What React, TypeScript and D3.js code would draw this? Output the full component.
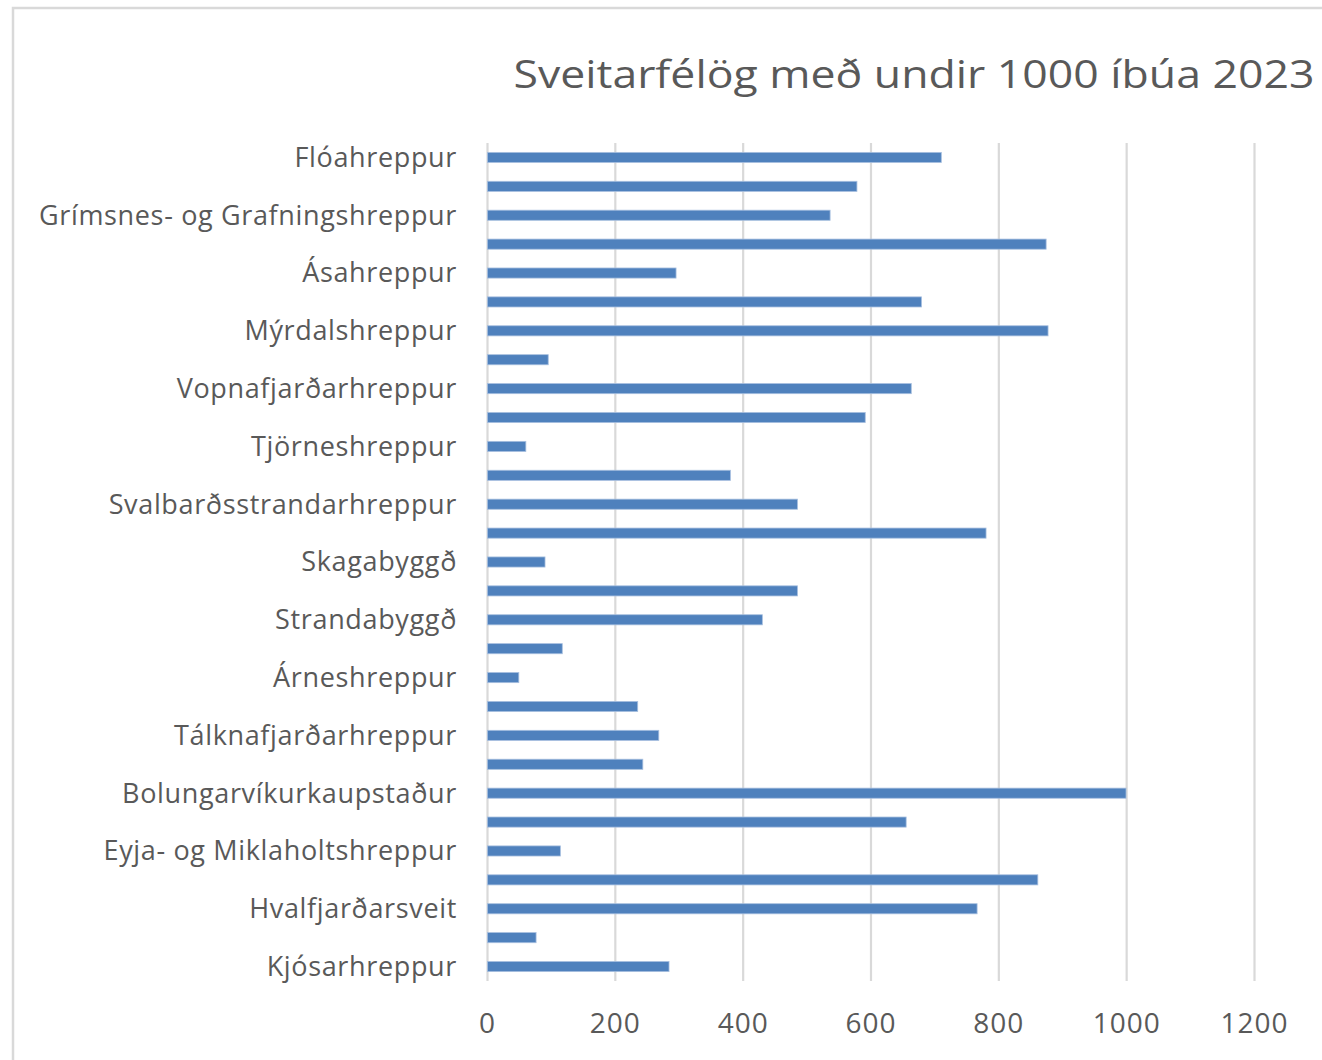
import React from "react";
import * as d3 from "d3";

const title = "Sveitarfélög með undir 1000 íbúa 2023";

const municipalities = [
  "Flóahreppur",
  "Skeiða- og Gnúpverjahreppur",
  "Grímsnes- og Grafningshreppur",
  "Hrunamannahreppur",
  "Ásahreppur",
  "Skaftárhreppur",
  "Mýrdalshreppur",
  "Fljótsdalshreppur",
  "Vopnafjarðarhreppur",
  "Langanesbyggð",
  "Tjörneshreppur",
  "Grýtubakkahreppur",
  "Svalbarðsstrandarhreppur",
  "Hörgársveit",
  "Skagabyggð",
  "Sveitarfélagið Skagaströnd",
  "Strandabyggð",
  "Kaldrananeshreppur",
  "Árneshreppur",
  "Reykhólahreppur",
  "Tálknafjarðarhreppur",
  "Súðavíkurhreppur",
  "Bolungarvíkurkaupstaður",
  "Dalabyggð",
  "Eyja- og Miklaholtshreppur",
  "Grundarfjarðarbær",
  "Hvalfjarðarsveit",
  "Skorradalshreppur",
  "Kjósarhreppur",
];

const residents = [
  710, 578, 536, 874, 295, 679, 877, 95, 663, 591,
  60, 380, 485, 780, 90, 485, 430, 117, 49, 235,
  268, 243, 999, 655, 114, 861, 766, 76, 284,
];

const xTicks = [0, 200, 400, 600, 800, 1000, 1200];

const W = 1322;
const H = 1060;
const plotLeft = 487.5;
const plotRight = 1254.5;
const plotTop = 143;
const plotBottom = 981;

const textColor = "#595959";
const gridColor = "#d9d9d9";
const barColor = "#4f81bd";
const font = "'Open Sans', 'Noto Sans', sans-serif";

export default function App() {
  const x = d3.scaleLinear().domain([0, 1200]).range([plotLeft, plotRight]);
  const y = d3
    .scaleBand<string>()
    .domain(municipalities)
    .range([plotTop, plotBottom])
    .paddingInner(0.65)
    .paddingOuter(0.325);

  return (
    <svg
      width={W}
      height={H}
      style={{ position: "absolute", left: 0, top: 0, display: "block", background: "#fff" }}
    >
      <rect x={0} y={0} width={W} height={H} fill="#fff" />
      {/* chart frame */}
      <rect x={13} y={8} width={W + 20} height={H + 20} fill="none" stroke={gridColor} strokeWidth={2.5} />

      <text
        x={914}
        y={88}
        textAnchor="middle"
        fontFamily={font}
        fontSize={39}
        fill={textColor}
        textLength={801}
        lengthAdjust="spacingAndGlyphs"
      >
        {title}
      </text>

      {/* gridlines */}
      {xTicks.map((t) => (
        <line
          key={t}
          x1={x(t)}
          x2={x(t)}
          y1={plotTop}
          y2={plotBottom}
          stroke={gridColor}
          strokeWidth={2.2}
        />
      ))}

      {/* bars */}
      {municipalities.map((m, i) => (
        <rect
          key={m}
          x={x(0)}
          y={y(m)}
          width={x(residents[i]) - x(0)}
          height={y.bandwidth()}
          fill={barColor}
          stroke="#a7bfdf"
          strokeWidth={0.8}
        />
      ))}

      {/* category labels: every other */}
      {municipalities.map((m, i) =>
        i % 2 === 0 ? (
          <text
            key={m}
            x={457}
            y={(y(m) as number) + y.bandwidth() / 2}
            dy="0.35em"
            textAnchor="end"
            fontFamily={font}
            fontSize={27}
            letterSpacing={0.65}
            fill={textColor}
          >
            {m}
          </text>
        ) : null
      )}

      {/* x tick labels */}
      {xTicks.map((t) => (
        <text
          key={t}
          x={x(t)}
          y={1033}
          textAnchor="middle"
          fontFamily={font}
          fontSize={28}
          letterSpacing={1}
          fill={textColor}
        >
          {t}
        </text>
      ))}
    </svg>
  );
}
